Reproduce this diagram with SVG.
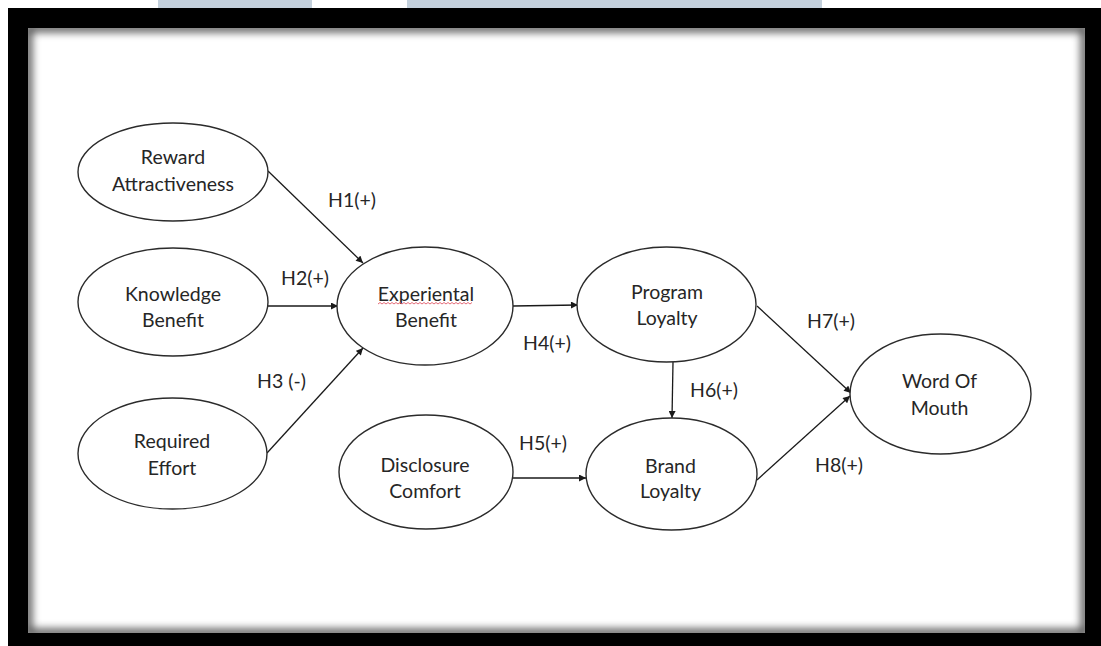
<svg xmlns="http://www.w3.org/2000/svg" width="1101" height="646" viewBox="0 0 1101 646">
  <style>
    .node ellipse { fill: #ffffff; stroke: #2b2b2b; stroke-width: 1.4; }
    .node text, .lbl { font-family: Lato, "Liberation Sans", sans-serif; font-size: 19.5px; fill: #262626; text-anchor: middle; }
    .lbl { text-anchor: start; }
    .edge { stroke: #1a1a1a; stroke-width: 1.3; fill: none; marker-end: url(#arrow); }
  </style>
  <defs>
    <marker id="arrow" viewBox="0 0 10 10" refX="10" refY="5" markerWidth="8" markerHeight="7" markerUnits="userSpaceOnUse" orient="auto">
      <path d="M0,0 L10,5 L0,10 z" fill="#1a1a1a"/>
    </marker>
    <clipPath id="innerClip">
      <rect x="28" y="28" width="1057" height="605"/>
    </clipPath>
    <filter id="blur" x="-5%" y="-5%" width="110%" height="110%">
      <feGaussianBlur stdDeviation="4"/>
    </filter>
  </defs>

  <!-- background & frame -->
  <rect x="0" y="0" width="1101" height="646" fill="#ffffff"/>
  <rect x="158" y="0" width="154" height="8" fill="#c3d0dc"/>
  <rect x="407" y="0" width="415" height="8" fill="#c3d0dc"/>
  <rect x="8" y="8" width="1093" height="638" fill="#000000"/>
  <rect x="28" y="28" width="1057" height="605" fill="#ffffff"/>
  <g clip-path="url(#innerClip)">
    <rect x="28" y="28" width="1057" height="605" fill="none" stroke="#000" stroke-width="8" opacity="0.7" filter="url(#blur)"/>
  </g>

  <!-- connectors -->
  <g id="connectors">
    <line class="edge" x1="268" y1="171" x2="363" y2="263"/>
    <line class="edge" x1="268" y1="306" x2="338" y2="306"/>
    <line class="edge" x1="267" y1="453" x2="363" y2="348"/>
    <line class="edge" x1="513" y1="306" x2="578" y2="305"/>
    <line class="edge" x1="673" y1="362" x2="672" y2="418"/>
    <line class="edge" x1="513" y1="478" x2="586" y2="478"/>
    <line class="edge" x1="757" y1="306" x2="851" y2="393"/>
    <line class="edge" x1="757" y1="480" x2="850" y2="396"/>
  </g>

  <!-- nodes -->
  <g id="reward" class="node">
    <ellipse cx="173" cy="172" rx="95" ry="49"/>
    <text x="173" y="164">Reward</text>
    <text x="173" y="191">Attractiveness</text>
  </g>
  <g id="knowledge" class="node">
    <ellipse cx="173" cy="302" rx="95" ry="54"/>
    <text x="173" y="301">Knowledge</text>
    <text x="173" y="327">Benefit</text>
  </g>
  <g id="effort" class="node">
    <ellipse cx="172.5" cy="453.5" rx="94.5" ry="55.5"/>
    <text x="172" y="448">Required</text>
    <text x="172" y="475">Effort</text>
  </g>
  <g id="experiential" class="node">
    <ellipse cx="425" cy="306" rx="88" ry="59"/>
    <text x="426" y="301">Experiental</text>
    <text x="426" y="327">Benefit</text>
    <path d="M378,304 l2,-1.5 l2,1.5 l2,-1.5 l2,1.5 l2,-1.5 l2,1.5 l2,-1.5 l2,1.5 l2,-1.5 l2,1.5 l2,-1.5 l2,1.5 l2,-1.5 l2,1.5 l2,-1.5 l2,1.5 l2,-1.5 l2,1.5 l2,-1.5 l2,1.5 l2,-1.5 l2,1.5 l2,-1.5 l2,1.5 l2,-1.5 l2,1.5 l2,-1.5 l2,1.5 l2,-1.5 l2,1.5 l2,-1.5 l2,1.5 l2,-1.5 l2,1.5 l2,-1.5 l2,1.5 l2,-1.5 l2,1.5 l2,-1.5 l2,1.5 l2,-1.5 l2,1.5 l2,-1.5 l2,1.5 l2,-1.5 l2,1.5 l2,-1.5" fill="none" stroke="#e05a6a" stroke-width="0.9"/>
  </g>
  <g id="program" class="node">
    <ellipse cx="666.5" cy="304.5" rx="89.5" ry="57.5"/>
    <text x="667" y="299">Program</text>
    <text x="667" y="325">Loyalty</text>
  </g>
  <g id="disclosure" class="node">
    <ellipse cx="426" cy="472" rx="87" ry="57"/>
    <text x="425" y="472">Disclosure</text>
    <text x="425" y="498">Comfort</text>
  </g>
  <g id="brand" class="node">
    <ellipse cx="671.5" cy="474" rx="85.5" ry="56"/>
    <text x="670.5" y="473">Brand</text>
    <text x="670.5" y="498">Loyalty</text>
  </g>
  <g id="wom" class="node">
    <ellipse cx="940.5" cy="394" rx="90.5" ry="60"/>
    <text x="939.5" y="388">Word Of</text>
    <text x="939.5" y="415">Mouth</text>
  </g>

  <!-- labels -->
  <g id="labels">
    <text class="lbl" x="328" y="207">H1(+)</text>
    <text class="lbl" x="281" y="285">H2(+)</text>
    <text class="lbl" x="257" y="388">H3 (-)</text>
    <text class="lbl" x="523" y="350">H4(+)</text>
    <text class="lbl" x="519" y="450">H5(+)</text>
    <text class="lbl" x="690" y="397">H6(+)</text>
    <text class="lbl" x="807" y="328">H7(+)</text>
    <text class="lbl" x="815" y="472">H8(+)</text>
  </g>
</svg>
